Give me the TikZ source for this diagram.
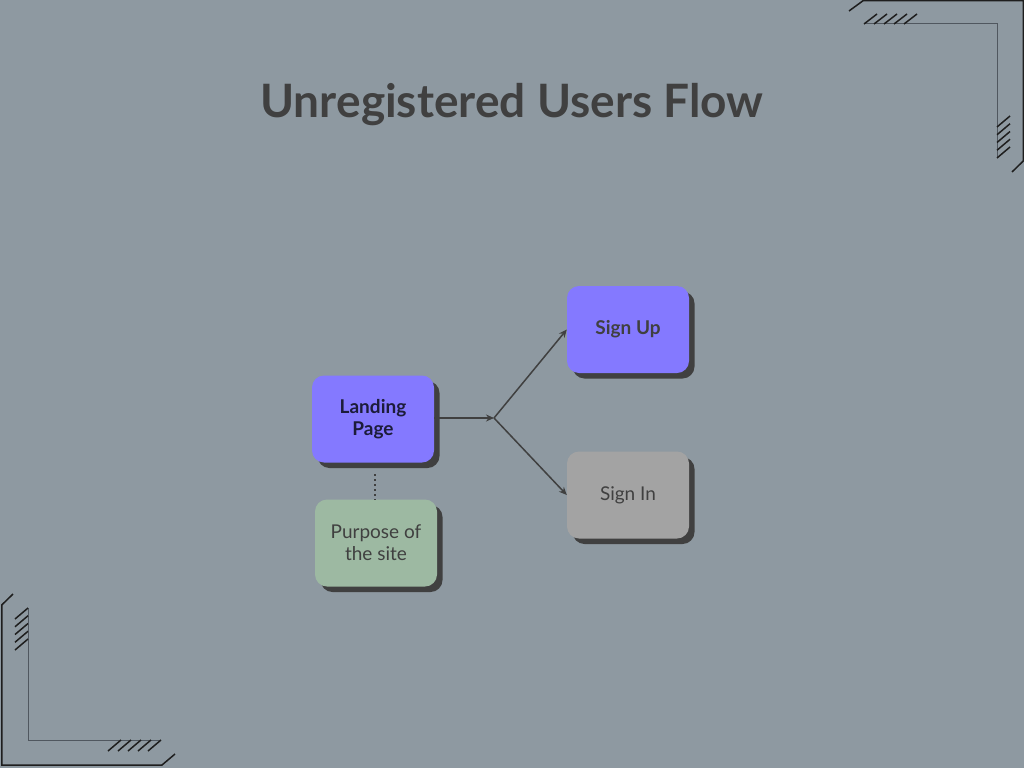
\documentclass[tikz,border=0pt]{standalone}
\usepackage{fontspec}
\setmainfont{Lato}
\usetikzlibrary{arrows.meta,shadows}
\definecolor{bgcol}{RGB}{142,153,161}
\definecolor{ink}{RGB}{64,64,64}
\definecolor{purplebox}{RGB}{132,121,255}
\definecolor{greenbox}{RGB}{157,185,162}
\definecolor{graybox}{RGB}{163,163,163}
\definecolor{navy}{RGB}{28,28,58}
\definecolor{innerline}{RGB}{80,87,95}
\definecolor{outerline}{RGB}{30,30,30}
\tikzset{
  card/.style={rounded corners=12pt, minimum width=122pt, minimum height=87pt, inner sep=0pt,
    align=center, font=\fontsize{19}{22}\selectfont,
    drop shadow={shadow xshift=5.5pt, shadow yshift=-5.5pt, fill=ink, opacity=1}},
  boldtext/.style={font=\fontsize{19}{22}\selectfont\bfseries},
  flow/.style={draw=ink, line width=1.5pt, -{Stealth[length=8pt,width=7pt]}},
  outer/.style={draw=outerline, line width=1.5pt},
  inner/.style={draw=innerline, line width=1pt},
  hatch/.style={draw=outerline, line width=1.5pt},
}
\begin{document}
\begin{tikzpicture}[x=1pt,y=-1pt]
\useasboundingbox (0,0) rectangle (1024,768);
\fill[bgcol] (0,0) rectangle (1024,768);
% title
\node[text=ink, font=\fontsize{46}{50}\selectfont\bfseries] (title) at (512,105) {Unregistered Users Flow};
% nodes
\node[card, fill=purplebox, text=navy, boldtext] (landing) at (373,419) {Landing\\Page};
\node[card, fill=greenbox, text=ink] (purpose) at (376,543) {Purpose of\\the site};
\node[card, fill=purplebox, text=ink, boldtext] (signup) at (628,329.5) {Sign Up};
\node[card, fill=graybox, text=ink] (signin) at (628,495) {Sign In};
\coordinate (j) at (494,418);
\draw[flow] (landing.east |- j) -- (j);
\draw[flow] (j) -- (signup.west);
\draw[flow] (j) -- (signin.west);
\draw[draw=ink, line width=2pt, dash pattern=on 2pt off 3pt] (375,474) -- (purpose.north -| 375,0);
% top-right corner
\draw[outer] (849,11) -- (863,0.75) -- (1023.25,0.75) -- (1023.25,161) -- (1012,172);
\draw[inner] (864,24) -- (997,24) -- (997,158);
\foreach \i in {0,...,4} {
  \draw[hatch] (864+10*\i,24) -- ++(13,-10);
  \draw[hatch] (997,127+7.75*\i) -- ++(13,-11);
}
% bottom-left corner
\draw[outer] (13,594) -- (1.75,605) -- (1.75,765) -- (162,765) -- (175,754);
\draw[inner] (28,608) -- (28,740) -- (161,740);
\foreach \i in {0,...,4} {
  \draw[hatch] (28,608+7.75*\i) -- ++(-13,11);
  \draw[hatch] (121+10*\i,740) -- ++(-13,11);
}
\end{tikzpicture}
\end{document}
